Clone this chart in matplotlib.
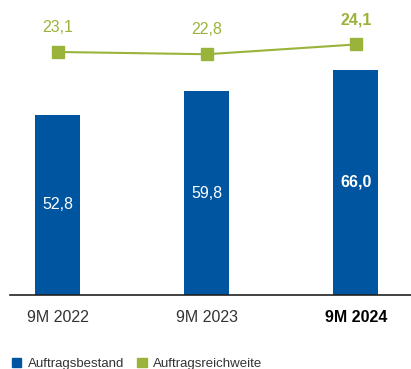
import matplotlib.pyplot as plt
from matplotlib.patches import Patch

plt.rcParams['font.family'] = ['Liberation Sans', 'DejaVu Sans']

categories = ['9M 2022', '9M 2023', '9M 2024']
bestand = [52.8, 59.8, 66.0]          # Auftragsbestand
reichweite = [23.1, 22.8, 24.1]       # Auftragsreichweite

blue = '#0055a0'
green = '#9ab33a'

fig = plt.figure(figsize=(4.11, 3.69), dpi=100)
ax = fig.add_axes([10 / 411, 74 / 369, 401 / 411, 295 / 369])
x = list(range(len(categories)))

ax.bar(x, bestand, width=0.30, color=blue, zorder=2)
for xi, v in zip(x, bestand):
    bold = xi == len(x) - 1
    ax.text(xi, v / 2, f'{v:.1f}'.replace('.', ','), ha='center', va='center',
            color='white', fontsize=11.5, fontweight='bold' if bold else 'normal')

ax.set_xlim(-0.32, 2.37)
ax.set_ylim(0, 86.5)
for s in ['top', 'right', 'left']:
    ax.spines[s].set_visible(False)
ax.spines['bottom'].set_color('#222222')
ax.spines['bottom'].set_linewidth(1.2)
ax.set_yticks([])
ax.set_xticks(x)
ax.set_xticklabels(categories, fontsize=11.5, color='#333333')
ax.get_xticklabels()[-1].set_fontweight('bold')
ax.get_xticklabels()[-1].set_color('black')
ax.tick_params(axis='x', length=0, pad=11)

ax2 = ax.twinx()
ax2.set_ylim(-9.3, 30.03)
ax2.plot(x, reichweite, color=green, lw=1.5, marker='s', markersize=8, zorder=3)
for xi, v in zip(x, reichweite):
    bold = xi == len(x) - 1
    ax2.text(xi, v + 3.3, f'{v:.1f}'.replace('.', ','), ha='center', va='center',
             color=green, fontsize=11.5, fontweight='bold' if bold else 'normal')
ax2.axis('off')

handles = [Patch(color=blue, label='Auftragsbestand'),
           Patch(color=green, label='Auftragsreichweite')]
fig.legend(handles=handles, loc='lower left', bbox_to_anchor=(0.0, -0.035), ncol=2,
           frameon=False, fontsize=9.5, handlelength=0.7, handleheight=0.7,
           handletextpad=0.5, columnspacing=1.0, labelcolor='#333333')

fig.savefig('out.png', dpi=100)
